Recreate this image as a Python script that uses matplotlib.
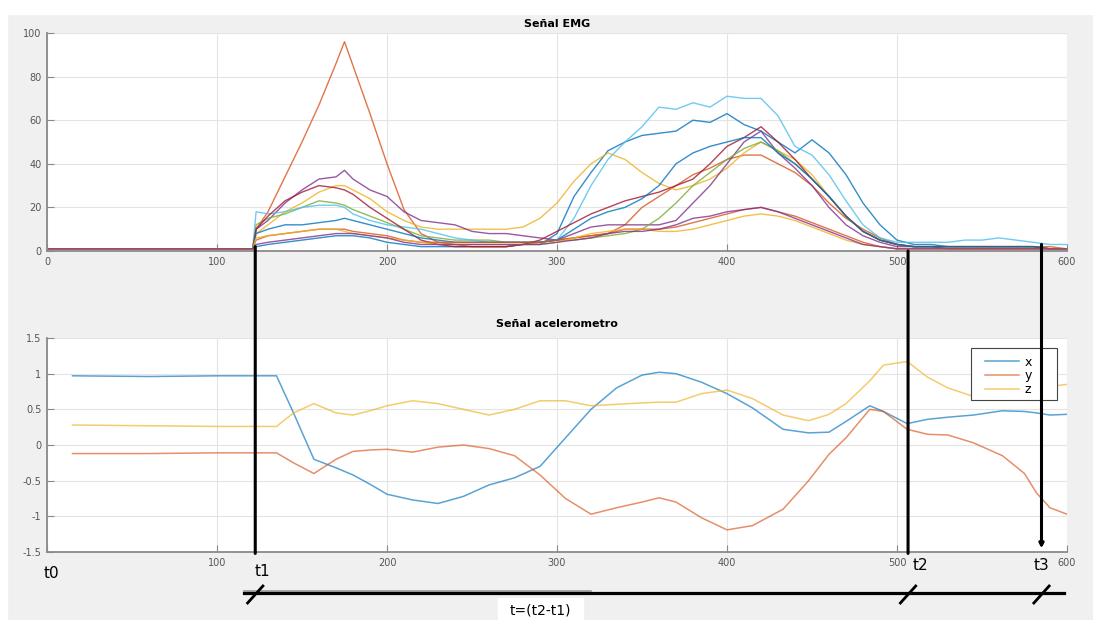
import matplotlib
matplotlib.use("Agg")
import matplotlib.pyplot as plt
from matplotlib.patches import Rectangle, ConnectionPatch
from matplotlib.lines import Line2D
import matplotlib.transforms as mtransforms

# ---- EMG data (11 channels) ----
emg_t = [0, 121, 123, 130, 140, 150, 160, 170, 175, 180,
         190, 200, 210, 220, 230, 240, 250, 260, 270, 280,
         290, 300, 310, 320, 330, 340, 350, 360, 370, 380,
         390, 400, 410, 420, 430, 440, 450, 460, 470, 480,
         490, 500, 510, 520, 530, 540, 550, 560, 570, 580,
         590, 600]

emg_1 = [1, 1, 2, 3, 4, 5, 6, 7, 7, 7,
         6, 4, 3, 2, 2, 2, 2, 2, 2, 3,
         3, 8, 25, 36, 46, 50, 53, 54, 55, 60,
         59, 63, 58, 55, 50, 45, 51, 45, 35, 22,
         12, 5, 3, 3, 2, 2, 2, 2, 2, 2,
         1, 1]
emg_2 = [1, 1, 10, 18, 34, 50, 67, 86, 96, 85,
         63, 40, 19, 8, 4, 3, 2, 2, 2, 3,
         4, 5, 6, 7, 8, 12, 20, 25, 30, 35,
         38, 42, 44, 44, 40, 36, 30, 22, 15, 10,
         6, 3, 2, 2, 2, 2, 2, 2, 2, 2,
         2, 1]
emg_3 = [1, 1, 8, 12, 18, 22, 27, 30, 30, 28,
         24, 18, 14, 11, 10, 10, 10, 10, 10, 11,
         15, 22, 32, 40, 45, 42, 36, 31, 28, 30,
         33, 38, 45, 50, 46, 42, 35, 25, 16, 9,
         5, 3, 2, 2, 2, 2, 2, 2, 2, 2,
         1, 1]
emg_4 = [1, 1, 10, 14, 22, 28, 33, 34, 37, 33,
         28, 25, 18, 14, 13, 12, 9, 8, 8, 7,
         6, 5, 8, 11, 12, 12, 12, 12, 14, 22,
         30, 40, 50, 55, 45, 38, 30, 20, 12, 7,
         4, 2, 2, 2, 1, 1, 1, 1, 1, 1,
         1, 1]
emg_5 = [1, 1, 12, 15, 17, 20, 23, 22, 21, 19,
         16, 13, 10, 7, 6, 5, 5, 5, 4, 4,
         4, 5, 5, 6, 7, 8, 10, 15, 22, 30,
         36, 42, 47, 50, 46, 40, 33, 25, 16, 9,
         5, 3, 2, 2, 2, 2, 2, 2, 2, 2,
         1, 1]
emg_6 = [1, 1, 18, 17, 18, 20, 21, 21, 20, 17,
         14, 12, 11, 10, 8, 6, 5, 4, 4, 4,
         4, 5, 15, 30, 42, 50, 57, 66, 65, 68,
         66, 71, 70, 70, 62, 48, 44, 35, 23, 12,
         6, 4, 4, 4, 4, 5, 5, 6, 5, 4,
         3, 3]
emg_7 = [1, 1, 10, 16, 23, 27, 30, 29, 28, 26,
         20, 15, 10, 5, 3, 2, 2, 2, 2, 3,
         5, 9, 13, 17, 20, 23, 25, 27, 30, 33,
         40, 48, 52, 57, 50, 42, 33, 25, 16, 9,
         5, 3, 2, 2, 2, 2, 2, 2, 2, 2,
         1, 1]
emg_8 = [1, 1, 8, 10, 12, 12, 13, 14, 15, 14,
         12, 10, 8, 6, 5, 4, 4, 4, 4, 4,
         4, 5, 10, 15, 18, 20, 24, 30, 40, 45,
         48, 50, 52, 52, 45, 40, 33, 25, 16, 9,
         5, 3, 2, 2, 2, 2, 2, 2, 2, 2,
         1, 1]
emg_9 = [1, 1, 5, 7, 8, 9, 10, 10, 10, 9,
         8, 7, 5, 4, 4, 4, 4, 4, 4, 4,
         4, 5, 6, 7, 8, 10, 10, 10, 11, 13,
         15, 17, 19, 20, 18, 16, 13, 10, 7, 4,
         2, 1, 1, 1, 1, 1, 1, 1, 1, 1,
         1, 1]
emg_10 = [1, 1, 6, 7, 8, 9, 10, 10, 9, 8,
          7, 6, 5, 4, 3, 3, 3, 3, 3, 3,
          3, 4, 6, 8, 9, 10, 10, 9, 9, 10,
          12, 14, 16, 17, 16, 14, 11, 8, 5, 3,
          2, 1, 1, 1, 1, 1, 1, 1, 1, 1,
          1, 1]
emg_11 = [1, 1, 3, 4, 5, 6, 7, 8, 8, 8,
          7, 6, 4, 3, 3, 3, 3, 3, 3, 3,
          3, 4, 5, 6, 8, 9, 9, 10, 12, 15,
          16, 18, 19, 20, 18, 15, 12, 9, 6, 3,
          2, 1, 1, 1, 1, 1, 1, 1, 1, 1,
          1, 1]

emg_channels = [emg_1, emg_2, emg_3, emg_4, emg_5, emg_6, emg_7,
                emg_8, emg_9, emg_10, emg_11]

# ---- accelerometer data ----
acc_t = [15, 60, 100, 135, 145, 157, 170, 180, 190, 200,
         215, 230, 245, 260, 275, 290, 305, 320, 335, 350,
         360, 370, 385, 400, 415, 433, 448, 460, 470, 484,
         492, 506, 518, 530, 545, 562, 575, 582, 590, 600]
acc_x = [0.97, 0.96, 0.97, 0.97, 0.45, -0.2, -0.32, -0.42, -0.55, -0.69,
         -0.77, -0.82, -0.72, -0.56, -0.46, -0.3, 0.1, 0.5, 0.8, 0.98,
         1.02, 1.0, 0.88, 0.72, 0.52, 0.22, 0.17, 0.18, 0.33, 0.55,
         0.47, 0.3, 0.36, 0.39, 0.42, 0.48, 0.47, 0.45, 0.42, 0.43]
acc_y = [-0.12, -0.12, -0.11, -0.11, -0.25, -0.4, -0.2, -0.09, -0.07, -0.06,
         -0.1, -0.03, 0.0, -0.05, -0.15, -0.42, -0.75, -0.97, -0.88, -0.8,
         -0.74, -0.8, -1.02, -1.19, -1.13, -0.9, -0.5, -0.13, 0.1, 0.5,
         0.47, 0.22, 0.15, 0.14, 0.03, -0.15, -0.4, -0.67, -0.88, -0.97]
acc_z = [0.28, 0.27, 0.26, 0.26, 0.45, 0.58, 0.45, 0.42, 0.48, 0.55,
         0.62, 0.58, 0.5, 0.42, 0.5, 0.62, 0.62, 0.55, 0.57, 0.59,
         0.6, 0.6, 0.72, 0.77, 0.65, 0.42, 0.34, 0.43, 0.58, 0.9,
         1.12, 1.17, 0.95, 0.8, 0.68, 0.66, 0.75, 0.8, 0.82, 0.85]
acc_labels = ["x", "y", "z"]

# ---- ticks / markers ----
x_ticks = [0, 100, 200, 300, 400, 500, 600]
emg_yticks = [0, 20, 40, 60, 80, 100]
acc_yticks = [-1.5, -1, -0.5, 0, 0.5, 1, 1.5]
acc_yticklabels = ["-1.5", "-1", "-0.5", "0", "0.5", "1", "1.5"]
t_marks = [122.5, 506.5, 585]

matlab_colors = ["#0072BD", "#D95319", "#EDB120", "#7E2F8E",
                 "#77AC30", "#4DBEEE", "#A2142F"]

W, H = 1093, 620
fig = plt.figure(figsize=(W / 100, H / 100), dpi=100, facecolor="#f0f0f0")
fig.patches.append(Rectangle((0, 1 - 14 / H), 1, 14 / H, transform=fig.transFigure,
                             color="white", zorder=0))
fig.patches.append(Rectangle((0, 0), 7 / W, 1, transform=fig.transFigure,
                             color="white", zorder=0))

ax1 = fig.add_axes([47 / W, 1 - 251 / H, 1020 / W, 218 / H])
ax2 = fig.add_axes([47 / W, 1 - 552 / H, 1020 / W, 214 / H])


def style_axes(ax):
    ax.set_facecolor("white")
    for s in ["top", "right"]:
        ax.spines[s].set_visible(False)
    for s in ["left", "bottom"]:
        ax.spines[s].set_color("#8a8a8a")
        ax.spines[s].set_linewidth(1.3)
    ax.tick_params(direction="in", length=5, width=0.8, colors="#8a8a8a",
                   labelcolor="#555555", labelsize=7, pad=4)
    ax.grid(True, color="#e4e4e4", linewidth=0.8)
    ax.set_axisbelow(True)
    ax.set_xlim(0, 600)
    ax.set_xticks(x_ticks)


style_axes(ax1)
for i, ch in enumerate(emg_channels):
    ax1.plot(emg_t, ch, color=matlab_colors[i % 7], lw=1.0, alpha=0.8)
ax1.set_ylim(0, 100)
ax1.set_yticks(emg_yticks)
ax1.set_title("Señal EMG", fontsize=8, fontweight="bold", pad=4)

style_axes(ax2)
for vals, lab, c in zip([acc_x, acc_y, acc_z], acc_labels, matlab_colors[:3]):
    ax2.plot(acc_t, vals, color=c, lw=1.1, alpha=0.65, label=lab)
ax2.set_ylim(-1.5, 1.5)
ax2.set_yticks(acc_yticks)
ax2.set_yticklabels(acc_yticklabels)
ax2.set_xticklabels([""] + [str(v) for v in x_ticks[1:]])
ax2.set_title("Señal acelerometro", fontsize=8, fontweight="bold", pad=8)

# MATLAB-like legend: frame drawn separately so the text sits left of the t3 line
box = Rectangle(((971 - 47) / 1020, (552 - 400) / 214), 86 / 1020, 52 / 214,
                transform=ax2.transAxes, facecolor="white", edgecolor="#444444",
                lw=0.8, zorder=4)
ax2.add_patch(box)
leg = ax2.legend(loc="upper left", bbox_to_anchor=((976 - 47) / 1020, (552 - 347) / 214),
                 fontsize=9, handlelength=2.7, labelspacing=0.05, borderpad=0.2,
                 handletextpad=0.5, frameon=False)
leg.set_zorder(5)

# ---- vertical marker lines across both plots ----
starts = [2, 0, 3]
ends = [-1.52, -1.52, -1.45]
for k, (tm, y0, y1) in enumerate(zip(t_marks, starts, ends)):
    style = "-|>" if k == 2 else "-"
    con = ConnectionPatch(xyA=(tm, y0), coordsA=ax1.transData,
                          xyB=(tm, y1), coordsB=ax2.transData,
                          arrowstyle=style, mutation_scale=6,
                          color="black", lw=2.2)
    fig.add_artist(con)

# ---- time labels ----
blend = mtransforms.blended_transform_factory(ax2.transData, fig.transFigure)
fig.text(2.4, 1 - 574 / H, "t0", transform=blend, fontsize=11,
         ha="center", va="center")
for tm, lab, dx, yp in zip(t_marks, ["t1", "t2", "t3"], [4, 7, 0], [572, 565, 565]):
    fig.text(tm + dx, 1 - yp / H, lab, transform=blend, fontsize=11,
             ha="center", va="center")

# ---- bracket below ----
y_br = 1 - 593 / H
fig.add_artist(Line2D([116, 320], [1 - 591 / H] * 2, transform=blend,
                      color="#9a9a9a", lw=1.2))
fig.add_artist(Line2D([116, 598], [y_br, y_br], transform=blend,
                      color="black", lw=2.3))
for tm in t_marks:
    fig.add_artist(Line2D([tm - 4.5, tm + 4.5], [1 - 603 / H, 1 - 586 / H],
                          transform=blend, color="black", lw=2.0))
fig.patches.append(Rectangle((265, 0), 50, 22 / H, transform=blend,
                             color="white", zorder=1))
fig.text(290.5, 1 - 611 / H, "t=(t2-t1)", transform=blend, fontsize=10,
         ha="center", va="center")

fig.savefig("out.png", dpi=100, facecolor=fig.get_facecolor())
